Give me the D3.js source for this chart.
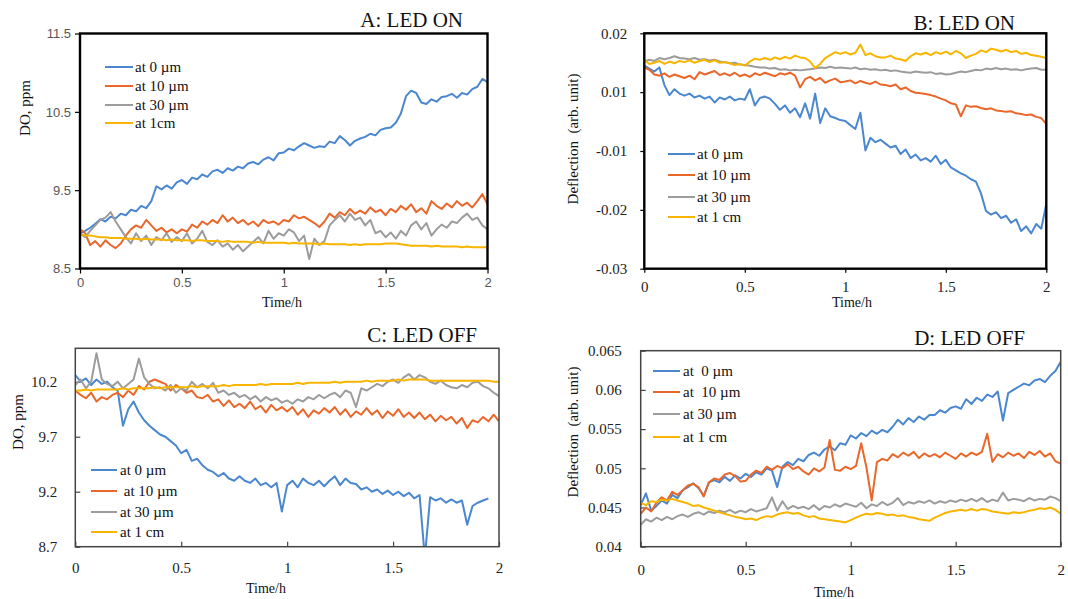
<!DOCTYPE html>
<html>
<head>
<meta charset="utf-8">
<script src="https://cdn.jsdelivr.net/npm/d3@7"></script>
<style>
  body { margin: 0; background: #fff; }
  svg { display: block; }
</style>
</head>
<body>
<div id="chart"></div>
<script>
// ---- shared bits ----
const serif = '"Liberation Serif", "Times New Roman", serif';
const seriesColors = ["#4a87cf", "#e9672a", "#9c9c9c", "#f7b500"];
const xTicks = [0, 0.5, 1, 1.5, 2];
const xTickLabels = ["0", "0.5", "1", "1.5", "2"];
// one reading every 1.5 min over 2 h
const times = d3.range(81).map(i => i * 0.025);

// ---- A: DO, LED on ----
const aNames = ["at 0 µm", "at 10 µm", "at 30 µm", "at 1cm"];
const aTicks = [8.5, 9.5, 10.5, 11.5];
const aTickLabels = ["8.5", "9.5", "10.5", "11.5"];
const aBlue = [8.95, 8.98, 9.02, 9.07, 9.13, 9.1, 9.16, 9.14,
  9.2, 9.18, 9.25, 9.23, 9.3, 9.27, 9.36, 9.55,
  9.51, 9.56, 9.52, 9.6, 9.63, 9.58, 9.66, 9.64,
  9.7, 9.67, 9.74, 9.76, 9.72, 9.78, 9.75, 9.8,
  9.78, 9.84, 9.86, 9.83, 9.89, 9.92, 9.88, 9.97,
  9.98, 10.03, 10.01, 10.06, 10.1, 10.07, 10.04, 10.06,
  10.05, 10.12, 10.1, 10.19, 10.14, 10.07, 10.13, 10.16,
  10.18, 10.22, 10.2, 10.27, 10.29, 10.3, 10.36, 10.48,
  10.7, 10.77, 10.74, 10.62, 10.6, 10.66, 10.63, 10.69,
  10.7, 10.73, 10.68, 10.74, 10.72, 10.79, 10.82, 10.92,
  10.88];
const aOrange = [9.0, 8.95, 8.8, 8.85, 8.78, 8.86, 8.8, 8.76,
  8.82, 8.92, 9.0, 9.05, 9.02, 9.12, 9.05, 8.98,
  9.02, 8.96, 9.0, 8.95, 9.0, 8.97, 9.06, 9.02,
  9.1, 9.06, 9.12, 9.08, 9.18, 9.1, 9.15, 9.08,
  9.12, 9.06, 9.1, 9.04, 9.12, 9.08, 9.1, 9.06,
  9.12, 9.1, 9.18, 9.14, 9.16, 9.12, 9.08, 9.03,
  9.1, 9.2, 9.15, 9.22, 9.18, 9.26, 9.2, 9.24,
  9.2, 9.28, 9.22, 9.25, 9.18, 9.26, 9.22, 9.3,
  9.25, 9.32, 9.22, 9.27, 9.2, 9.36, 9.3, 9.26,
  9.33, 9.28, 9.36, 9.3, 9.34, 9.28, 9.36, 9.45,
  9.32];
const aGray = [8.95, 8.9, 8.98, 9.05, 9.12, 9.15, 9.22, 9.1,
  9.0, 8.9, 8.82, 8.95, 8.85, 8.92, 8.8, 8.9,
  8.86, 8.95, 8.84, 8.9, 8.85, 8.95, 8.82, 8.88,
  8.98, 8.84, 8.8, 8.86, 8.78, 8.82, 8.74, 8.8,
  8.72, 8.78, 8.84, 8.9, 8.82, 8.98, 8.88, 8.95,
  8.92, 9.0, 8.96, 8.85, 8.92, 8.62, 8.88, 8.8,
  8.85, 9.05, 9.12, 9.18, 9.1, 9.2, 9.12, 9.15,
  9.05, 9.12, 8.95, 8.98, 8.9, 8.96, 8.88, 8.98,
  8.92, 9.05, 9.1, 9.0, 9.08, 8.92, 9.0, 9.06,
  9.02, 9.1, 9.08, 9.15, 9.2, 9.12, 9.15, 9.05,
  9.0];
const aYellow = [8.93, 8.92, 8.92, 8.91, 8.9, 8.9, 8.89, 8.89,
  8.89, 8.88, 8.88, 8.88, 8.87, 8.88, 8.87, 8.87,
  8.87, 8.86, 8.87, 8.86, 8.86, 8.86, 8.85, 8.86,
  8.86, 8.85, 8.85, 8.85, 8.84, 8.85, 8.84, 8.84,
  8.84, 8.84, 8.83, 8.84, 8.83, 8.83, 8.83, 8.83,
  8.83, 8.82, 8.83, 8.82, 8.82, 8.82, 8.82, 8.81,
  8.82, 8.81, 8.81, 8.81, 8.81, 8.8, 8.81, 8.8,
  8.81, 8.81, 8.81, 8.81, 8.82, 8.82, 8.82, 8.81,
  8.8, 8.79, 8.79, 8.79, 8.79, 8.78, 8.79, 8.78,
  8.78, 8.78, 8.78, 8.77, 8.78, 8.77, 8.77, 8.77,
  8.77];

// ---- B: deflection, LED on (axis labels are spaced evenly as printed) ----
const bNames = ["at 0 µm", "at 10 µm", "at 30 µm", "at 1 cm"];
const bTicks = [-0.03, -0.02, -0.01, 0.01, 0.02];
const bTickLabels = ["-0.03", "-0.02", "-0.01", "0.01", "0.02"];
const bBlue = [0.0145, 0.014, 0.0135, 0.0142, 0.0112, 0.009, 0.0105, 0.0095,
  0.0088, 0.0095, 0.0082, 0.0088, 0.0078, 0.0085, 0.0065, 0.0082,
  0.0075, 0.0085, 0.0072, 0.0078, 0.0074, 0.0105, 0.0055, 0.008,
  0.0085, 0.0078, 0.006, 0.004, 0.0055, 0.003, 0.0045, 0.0015,
  0.0062, 0.001, 0.0095, -0.0005, 0.0045, 0.0018, 0.0012, 0.0005,
  0.0002, -0.0012, -0.0025, 0.003, -0.0098, -0.0055, -0.007, -0.0062,
  -0.0075, -0.0088, -0.0082, -0.0105, -0.0095, -0.0112, -0.0106, -0.0116,
  -0.0112, -0.0118, -0.0108, -0.0122, -0.0115, -0.0128, -0.0133, -0.0138,
  -0.0142, -0.0148, -0.0152, -0.0172, -0.0202, -0.0208, -0.0204, -0.0214,
  -0.021, -0.0222, -0.0216, -0.0236, -0.0228, -0.024, -0.0224, -0.0232,
  -0.019];
const bOrange = [0.0142, 0.0138, 0.013, 0.0128, 0.0132, 0.0126, 0.013, 0.0127,
  0.0124, 0.0128, 0.0122, 0.0134, 0.013, 0.0133, 0.0136, 0.0129,
  0.0132, 0.0128, 0.0133, 0.0127, 0.013, 0.0126, 0.0132, 0.0129,
  0.0133, 0.013, 0.0127, 0.0132, 0.013, 0.0133, 0.0128, 0.0108,
  0.0122, 0.0126, 0.012, 0.0124, 0.0116, 0.012, 0.0123, 0.0117,
  0.0118, 0.012, 0.0115, 0.0119, 0.0116, 0.0114, 0.0118, 0.0113,
  0.0112, 0.011, 0.0113, 0.0105, 0.0108, 0.0102, 0.0098, 0.0096,
  0.0094, 0.009, 0.0085, 0.0078, 0.0072, 0.0062, 0.0058, 0.0018,
  0.0055, 0.005, 0.0052, 0.0046, 0.0042, 0.0045, 0.0038, 0.0036,
  0.0033, 0.0035, 0.0028, 0.0026, 0.0022, 0.0024, 0.0016, 0.0012,
  -0.0008];
const bGray = [0.0152, 0.0155, 0.0153, 0.0158, 0.0156, 0.0158, 0.0161, 0.0158,
  0.0157, 0.0156, 0.0158, 0.0155, 0.0156, 0.0154, 0.0155, 0.0152,
  0.0151, 0.0149, 0.015, 0.0147, 0.0146, 0.0145, 0.0143, 0.0142,
  0.0142, 0.014, 0.0141, 0.0138, 0.0139, 0.0137, 0.0138, 0.0137,
  0.0138, 0.0139, 0.014, 0.0142, 0.0141, 0.0143, 0.0141, 0.0142,
  0.0141, 0.014, 0.0142, 0.0139, 0.014, 0.0138, 0.0139, 0.0137,
  0.0138, 0.0136, 0.0137, 0.0135, 0.0134, 0.0133, 0.0135, 0.0134,
  0.0133, 0.0134, 0.0131, 0.0132, 0.013, 0.0131, 0.0133, 0.0135,
  0.0134, 0.0136, 0.0138, 0.0137, 0.014, 0.0139, 0.0141, 0.0139,
  0.014, 0.0138, 0.0139, 0.0137, 0.0139, 0.014, 0.0141, 0.0138,
  0.0138];
const bYellow = [0.0155, 0.0148, 0.015, 0.0153, 0.0148, 0.0152, 0.0149, 0.0153,
  0.0151, 0.0154, 0.015, 0.0153, 0.0155, 0.0151, 0.0154, 0.015,
  0.0151, 0.0149, 0.0146, 0.0148, 0.0145, 0.0152, 0.0157, 0.0155,
  0.0158, 0.0155, 0.0159, 0.0156, 0.016, 0.0157, 0.0162, 0.0159,
  0.0158, 0.0152, 0.0141, 0.0148, 0.0158, 0.0163, 0.0168, 0.0165,
  0.0168, 0.0164, 0.0167, 0.0181, 0.0163, 0.0166, 0.0161, 0.0159,
  0.0159, 0.0162, 0.0157, 0.0156, 0.0153, 0.0161, 0.0166, 0.0164,
  0.0167, 0.0163, 0.0168, 0.0165, 0.0169, 0.0164, 0.017, 0.0166,
  0.0158, 0.0162, 0.0165, 0.0171, 0.0168, 0.0174, 0.0172, 0.0169,
  0.0172, 0.0168, 0.017, 0.0165, 0.0167, 0.0163, 0.0162, 0.016,
  0.0158];

// ---- C: DO, LED off ----
const cNames = ["at 0 µm", " at 10 µm", "at 30 µm", "at 1 cm"];
const cTicks = [8.7, 9.2, 9.7, 10.2];
const cTickLabels = ["8.7", "9.2", "9.7", "10.2"];
const cBlue = [10.26, 10.2, 10.23, 10.17, 10.22, 10.18, 10.2, 10.15,
  10.12, 9.8, 9.95, 10.02, 9.92, 9.85, 9.8, 9.76,
  9.72, 9.7, 9.66, 9.62, 9.55, 9.58, 9.48, 9.5,
  9.44, 9.4, 9.38, 9.34, 9.37, 9.32, 9.3, 9.34,
  9.3, 9.28, 9.32, 9.26, 9.28, 9.24, 9.28, 9.02,
  9.26, 9.3, 9.24, 9.32, 9.28, 9.26, 9.3, 9.25,
  9.3, 9.34, 9.26, 9.32, 9.28, 9.27, 9.22, 9.24,
  9.2, 9.22, 9.18, 9.21, 9.17, 9.2, 9.16, 9.19,
  9.14, 9.17, 8.6, 9.15, 9.12, 9.14, 9.1, 9.13,
  9.1, 9.12, 8.9, 9.07, 9.1, 9.12, 9.14, null,
  null];
const cOrange = [10.12, 10.08, 10.05, 10.1, 10.02, 10.06, 10.04, 10.08,
  10.1, 10.06, 10.12, 10.08, 10.16, 10.13, 10.2, 10.22,
  10.2, 10.18, 10.12, 10.17, 10.14, 10.1, 10.12, 10.06,
  10.05, 10.08, 10.02, 10.04, 9.98, 10.03, 9.97, 10.0,
  9.96, 10.02, 9.95, 9.98, 9.92, 9.99, 9.94, 9.97,
  9.93, 9.97, 9.9, 9.95, 9.88, 9.94, 9.91, 9.96,
  9.92, 9.97, 9.9, 9.95, 9.88, 9.93, 9.9, 9.96,
  9.9, 9.94, 9.87, 9.93, 9.89, 9.95, 9.88, 9.92,
  9.87, 9.92, 9.86, 9.9, 9.84, 9.89, 9.85, 9.88,
  9.82, 9.87, 9.78, 9.85, 9.83, 9.88, 9.84, 9.9,
  9.84];
const cGray = [10.17, 10.22, 10.14, 10.2, 10.46, 10.22, 10.18, 10.16,
  10.2, 10.14, 10.18, 10.22, 10.41, 10.24, 10.18, 10.14,
  10.15, 10.12, 10.17, 10.1, 10.14, 10.12, 10.2, 10.15,
  10.18, 10.14, 10.19, 10.1, 10.12, 10.08, 10.1, 10.06,
  10.08, 10.04, 10.07, 10.02, 10.06, 10.03, 10.05, 10.01,
  10.03, 10.0, 10.04, 10.02, 10.06, 10.04, 10.08, 10.05,
  10.08, 10.1, 10.06, 10.12, 10.1, 9.97, 10.14, 10.12,
  10.15, 10.18, 10.16, 10.2, 10.22, 10.19, 10.24, 10.27,
  10.22, 10.26, 10.24, 10.2, 10.18, 10.21, 10.17, 10.15,
  10.14, 10.17, 10.15, 10.19, 10.2, 10.16, 10.14, 10.1,
  10.07];
const cYellow = [10.12, 10.12, 10.13, 10.12, 10.13, 10.13, 10.13, 10.13,
  10.13, 10.14, 10.13, 10.14, 10.14, 10.14, 10.14, 10.15,
  10.14, 10.15, 10.15, 10.15, 10.15, 10.15, 10.16, 10.15,
  10.16, 10.16, 10.16, 10.16, 10.17, 10.16, 10.17, 10.17,
  10.17, 10.17, 10.17, 10.18, 10.17, 10.18, 10.18, 10.18,
  10.18, 10.18, 10.19, 10.18, 10.19, 10.19, 10.19, 10.19,
  10.19, 10.2, 10.19, 10.2, 10.2, 10.2, 10.2, 10.21,
  10.2, 10.21, 10.21, 10.21, 10.21, 10.22, 10.21, 10.22,
  10.22, 10.22, 10.22, 10.21, 10.21, 10.21, 10.21, 10.21,
  10.21, 10.21, 10.21, 10.21, 10.21, 10.21, 10.21, 10.2,
  10.2];

// ---- D: deflection, LED off ----
const dNames = ["at  0 µm", "at  10 µm", "at 30 µm", "at 1 cm"];
const dTicks = [0.04, 0.045, 0.05, 0.055, 0.06, 0.065];
const dTickLabels = ["0.04", "0.045", "0.05", "0.055", "0.06", "0.065"];
const dBlue = [0.0453, 0.0468, 0.0446, 0.0452, 0.0459, 0.0455, 0.0466, 0.0462,
  0.0472, 0.0476, 0.0481, 0.0475, 0.0465, 0.0482, 0.0485, 0.0482,
  0.0489, 0.0484, 0.0491, 0.0487, 0.0493, 0.0489, 0.0495, 0.0492,
  0.05, 0.0497, 0.0476, 0.0502, 0.0508, 0.0504, 0.0512, 0.0509,
  0.0517, 0.052, 0.0516, 0.0524, 0.0528, 0.0523, 0.0532, 0.053,
  0.0542, 0.0538, 0.0545, 0.0541, 0.0548, 0.0544, 0.0549, 0.0546,
  0.0553, 0.0562, 0.0556, 0.0564, 0.0559, 0.0566, 0.0562, 0.0568,
  0.0568, 0.0574, 0.0571, 0.0577, 0.0579, 0.0576, 0.0588, 0.0582,
  0.059, 0.0586, 0.0594, 0.0591, 0.0598, 0.0561, 0.0596, 0.06,
  0.0604, 0.0608, 0.0606, 0.0612, 0.0614, 0.061, 0.0618, 0.0624,
  0.0636];
const dOrange = [0.0442, 0.045, 0.0445, 0.0456, 0.0463, 0.0459, 0.047, 0.0466,
  0.0472, 0.0478, 0.048, 0.0476, 0.0464, 0.0482, 0.0487, 0.0485,
  0.0492, 0.0494, 0.049, 0.0483, 0.0484, 0.0492, 0.0497, 0.0494,
  0.0502, 0.0498, 0.0503, 0.05, 0.0505, 0.0499, 0.0502, 0.0496,
  0.0492, 0.05, 0.0496, 0.0501, 0.0536, 0.0498, 0.0497, 0.0502,
  0.0499, 0.0503, 0.0532, 0.0501, 0.0459, 0.0508, 0.0512, 0.051,
  0.0518, 0.0514, 0.052, 0.0516, 0.0521, 0.0513, 0.0519, 0.0515,
  0.0518, 0.0514, 0.052, 0.0516, 0.0512, 0.0519, 0.0515, 0.052,
  0.0517, 0.0521, 0.0544, 0.0508, 0.0518, 0.0514, 0.052, 0.0516,
  0.0519, 0.0513, 0.0521, 0.0517, 0.0522, 0.0515, 0.0519, 0.0509,
  0.0506];
const dGray = [0.0428, 0.0435, 0.0432, 0.0437, 0.0434, 0.0438, 0.0435, 0.0439,
  0.0441, 0.0438, 0.0442, 0.0444, 0.0441, 0.0445, 0.0443, 0.0446,
  0.0444, 0.0447, 0.0443, 0.0446, 0.0444, 0.0448, 0.0445, 0.0447,
  0.0449, 0.0463, 0.0446, 0.0458, 0.0448, 0.0452, 0.0449, 0.0451,
  0.0448, 0.0453, 0.0447, 0.0452, 0.045, 0.0454, 0.0451, 0.0455,
  0.0453, 0.0451, 0.0456, 0.0449, 0.0454, 0.0452, 0.0457, 0.0453,
  0.0456, 0.0462, 0.0453, 0.0457, 0.0455, 0.0458, 0.0456, 0.0459,
  0.0455, 0.0458, 0.0456, 0.0459, 0.0457, 0.046, 0.0458, 0.0461,
  0.0458, 0.0462, 0.0457, 0.046, 0.0458, 0.0469, 0.0459, 0.0461,
  0.046, 0.0458, 0.0462, 0.0459, 0.0461, 0.046, 0.0464, 0.0462,
  0.0458];
const dYellow = [0.0456, 0.0453, 0.0458, 0.0457, 0.046, 0.0459, 0.0461, 0.0459,
  0.0457, 0.0455, 0.0452, 0.0453, 0.045, 0.0448, 0.0446, 0.0444,
  0.0442, 0.044, 0.0438, 0.0437, 0.0435, 0.0436, 0.0434, 0.0437,
  0.0439, 0.0438, 0.0441, 0.0443, 0.0444, 0.0442, 0.0443, 0.044,
  0.0438, 0.0439, 0.0436, 0.0435, 0.0434, 0.0433, 0.0432, 0.0431,
  0.0434, 0.0437, 0.044, 0.0442, 0.0441, 0.0443, 0.0442, 0.044,
  0.0441, 0.0439, 0.044, 0.0438, 0.0437, 0.0435, 0.0434, 0.0433,
  0.0437, 0.044, 0.0443, 0.0445, 0.0446, 0.0447, 0.0446, 0.0448,
  0.0446, 0.0448, 0.0447, 0.0445, 0.0444, 0.0443, 0.0442, 0.0444,
  0.0443, 0.0444, 0.0446, 0.0447, 0.0449, 0.0448, 0.045, 0.0447,
  0.0442];

// ---- layout of the four panels ----
const panels = [
  {
    key: "a", title: "A: LED ON", yTitle: "DO, ppm",
    box: { x: 80, y: 33.5, w: 407.5, h: 235 },
    yDomain: [8.5, 11.5], yTicks: aTicks, yLabels: aTickLabels,
    series: [aBlue, aOrange, aGray, aYellow], names: aNames,
    frame: { color: "#000", width: 2.4 }, tickIn: false, tick: 5,
    yPad: 4, xPad: 4, tickFont: { family: '"Liberation Sans", Arial, sans-serif', size: 13, color: "#555" },
    titlePos: [463, 27], yTitlePos: [25, 108], xTitlePos: [282, 307],
    legend: { x0: 105, x1: 133, tx: 135, rows: [67, 86, 105, 123] }
  },
  {
    key: "b", title: "B: LED ON", yTitle: "Deflection  (arb. unit)",
    box: { x: 644.3, y: 33.3, w: 402, h: 235.4 },
    yDomain: bTicks, yTicks: bTicks, yLabels: bTickLabels,
    series: [bBlue, bOrange, bGray, bYellow], names: bNames,
    frame: { color: "#000", width: 2.4 }, tickIn: false, tick: 4,
    yPad: 13, xPad: 9, tickFont: { family: serif, size: 15, color: "#222" },
    titlePos: [1015, 30], yTitlePos: [573, 139], xTitlePos: [852, 307],
    legend: { x0: 668, x1: 695, tx: 697, rows: [154, 175, 197, 217] }
  },
  {
    key: "c", title: "C: LED OFF", yTitle: "DO, ppm",
    box: { x: 75.3, y: 348.3, w: 423.7, h: 198.4 },
    yDomain: [8.7, 10.504], yTicks: cTicks, yLabels: cTickLabels,
    series: [cBlue, cOrange, cGray, cYellow], names: cNames,
    frame: { color: "#444", width: 1.5 }, tickIn: true, tick: 5,
    yPad: 13, xPad: 11, tickFont: { family: serif, size: 15, color: "#222" },
    titlePos: [477, 342], yTitlePos: [18, 422], xTitlePos: [266, 593],
    legend: { x0: 91, x1: 117, tx: 120, rows: [470, 491, 512, 532] }
  },
  {
    key: "d", title: "D: LED OFF", yTitle: "Deflection  (arb. unit)",
    box: { x: 640.7, y: 350.7, w: 420, h: 196 },
    yDomain: [0.04, 0.065], yTicks: dTicks, yLabels: dTickLabels,
    series: [dBlue, dOrange, dGray, dYellow], names: dNames,
    frame: { color: "#444", width: 1.5 }, tickIn: true, tick: 5,
    yPad: 14, xPad: 13, tickFont: { family: serif, size: 15, color: "#222" },
    titlePos: [1025, 345], yTitlePos: [573, 432], xTitlePos: [834, 597],
    legend: { x0: 653, x1: 680, tx: 683, rows: [371, 392, 414, 437] }
  }
];

const svg = d3.select("#chart").append("svg")
  .attr("width", 1068)
  .attr("height", 599);

// small helper so every label gets the serif face
function addText(parent, size) {
  return parent.append("text")
    .attr("fill", "#111")
    .style("font-family", serif)
    .style("font-size", size + "px")
    .style("white-space", "pre");
}

panels.forEach(p => {
  const b = p.box;

  const x = d3.scaleLinear().domain([0, 2]).range([0, b.w]);
  // piecewise range so the printed tick labels sit evenly, as in the figure
  const yRange = p.yDomain.map((d, i) => b.h - i * b.h / (p.yDomain.length - 1));
  const y = p.yDomain.length > 2
    ? d3.scaleLinear().domain(p.yDomain).range(yRange)
    : d3.scaleLinear().domain(p.yDomain).range([b.h, 0]);

  const g = svg.append("g").attr("transform", `translate(${b.x},${b.y})`);

  g.append("clipPath").attr("id", "clip-" + p.key)
    .append("rect").attr("width", b.w).attr("height", b.h);

  const tickSize = p.tickIn ? -p.tick : p.tick;

  const yAxis = d3.axisLeft(y)
    .tickValues(p.yTicks)
    .tickFormat(d => p.yLabels[p.yTicks.indexOf(d)])
    .tickSize(tickSize)
    .tickSizeOuter(0)
    .tickPadding(p.yPad + (p.tickIn ? p.tick : 0));
  const xAxis = d3.axisBottom(x)
    .tickValues(xTicks)
    .tickFormat(d => xTickLabels[xTicks.indexOf(d)])
    .tickSize(tickSize)
    .tickSizeOuter(0)
    .tickPadding(p.xPad + (p.tickIn ? p.tick : 0));

  [g.append("g").call(yAxis), g.append("g").attr("transform", `translate(0,${b.h})`).call(xAxis)]
    .forEach(ax => {
      ax.select(".domain").remove();
      ax.attr("font-family", null).attr("font-size", null);
      ax.selectAll(".tick line").attr("stroke", p.frame.color).attr("stroke-width", 1.2);
      ax.selectAll(".tick text")
        .style("font-family", p.tickFont.family)
        .style("font-size", p.tickFont.size + "px")
        .attr("fill", p.tickFont.color);
    });

  // data lines
  const line = d3.line()
    .defined(d => d[1] != null)
    .x(d => x(d[0]))
    .y(d => y(d[1]));

  const lines = g.append("g").attr("clip-path", `url(#clip-${p.key})`);
  p.series.forEach((vals, i) => {
    lines.append("path")
      .datum(times.map((t, j) => [t, vals[j]]))
      .attr("fill", "none")
      .attr("stroke", seriesColors[i])
      .attr("stroke-width", 2)
      .attr("stroke-linejoin", "round")
      .attr("d", line);
  });

  // plot frame
  g.append("rect")
    .attr("width", b.w)
    .attr("height", b.h)
    .attr("fill", "none")
    .attr("stroke", p.frame.color)
    .attr("stroke-width", p.frame.width);

  // legend
  const leg = svg.append("g");
  p.names.forEach((name, i) => {
    const ry = p.legend.rows[i];
    leg.append("line")
      .attr("x1", p.legend.x0).attr("x2", p.legend.x1)
      .attr("y1", ry).attr("y2", ry)
      .attr("stroke", seriesColors[i])
      .attr("stroke-width", 2);
    addText(leg, 15)
      .attr("x", p.legend.tx)
      .attr("y", ry)
      .attr("dy", "0.35em")
      .text(name);
  });

  // titles
  addText(svg, 21)
    .attr("x", p.titlePos[0]).attr("y", p.titlePos[1])
    .attr("text-anchor", "end")
    .text(p.title);

  addText(svg, 15)
    .attr("transform", `translate(${p.yTitlePos[0]},${p.yTitlePos[1]}) rotate(-90)`)
    .attr("text-anchor", "middle")
    .attr("dy", "0.35em")
    .text(p.yTitle);

  addText(svg, 14)
    .attr("x", p.xTitlePos[0]).attr("y", p.xTitlePos[1])
    .attr("text-anchor", "middle")
    .text("Time/h");
});
</script>
</body>
</html>
